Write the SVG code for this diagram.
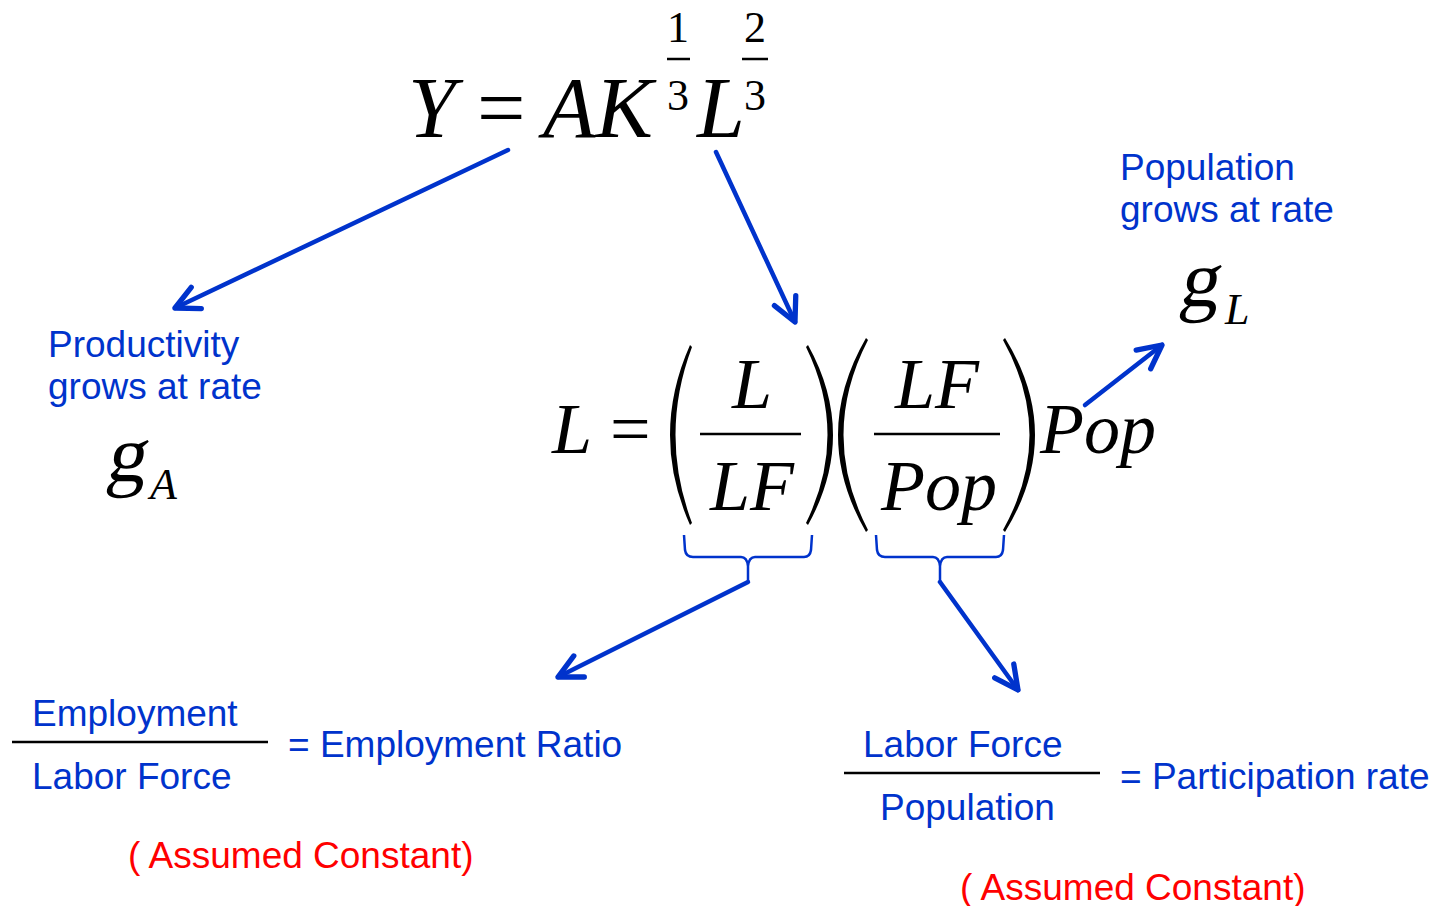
<svg xmlns="http://www.w3.org/2000/svg" width="1449" height="906" viewBox="0 0 1449 906">
<style>
.m{font-family:"Liberation Serif","Times New Roman",serif;font-style:italic;fill:#000}
.mu{font-family:"Liberation Serif","Times New Roman",serif;fill:#000}
.t{font-family:"Liberation Sans",Arial,sans-serif;font-size:37px;fill:#0033cc}
.r{font-family:"Liberation Sans",Arial,sans-serif;font-size:37px;fill:#ff0000}
.c{stroke:#0033cc;stroke-width:4.5;fill:none;stroke-linecap:round}
.b{stroke:#0033cc;stroke-width:2.5;fill:none}
.bar{stroke:#000;stroke-width:2.5}
</style>
<defs>
<marker id="ah" markerUnits="userSpaceOnUse" markerWidth="40" markerHeight="40" viewBox="-4 -4 34 34" refX="22" refY="12" orient="auto">
<path d="M2,2 L22,12 L2,22" fill="none" stroke="#0033cc" stroke-width="4.5" stroke-linecap="round" stroke-linejoin="round"/>
</marker>
</defs>
<rect width="1449" height="906" fill="#fff"/>
<g id="eq-production">
<text class="m" x="408" y="137" font-size="86">Y</text>
<text class="mu" x="477" y="137" font-size="86">=</text>
<text class="m" x="543" y="137" font-size="86">AK</text>
<text class="mu" x="678" y="42" font-size="44" text-anchor="middle">1</text>
<line class="bar" x1="667" y1="59" x2="690" y2="59"/>
<text class="mu" x="678" y="110" font-size="44" text-anchor="middle">3</text>
<text class="m" x="697" y="137" font-size="86">L</text>
<text class="mu" x="755" y="42" font-size="44" text-anchor="middle">2</text>
<line class="bar" x1="742" y1="59" x2="768" y2="59"/>
<text class="mu" x="755" y="110" font-size="44" text-anchor="middle">3</text>
</g>
<g id="eq-labor">
<text class="m" x="552" y="453" font-size="72">L</text>
<text class="mu" x="610" y="453" font-size="72">=</text>
<path d="M690,345 Q650,435 690,525 L692,523 Q659,435 692,347 Z" fill="#000"/>
<text class="m" x="752" y="408" font-size="72" text-anchor="middle">L</text>
<line class="bar" x1="700" y1="434" x2="801" y2="434"/>
<text class="m" x="752" y="510" font-size="72" text-anchor="middle">LF</text>
<path d="M808,345 Q858,435 808,525 L806,523 Q849,435 806,347 Z" fill="#000"/>
<path d="M866,338 Q810,435 866,532 L868,530 Q819,435 868,340 Z" fill="#000"/>
<text class="m" x="937" y="408" font-size="72" text-anchor="middle">LF</text>
<line class="bar" x1="874" y1="434" x2="1000" y2="434"/>
<text class="m" x="939" y="510" font-size="72" text-anchor="middle">Pop</text>
<path d="M1005,338 Q1065,435 1005,532 L1003,530 Q1056,435 1003,340 Z" fill="#000"/>
<text class="m" x="1040" y="453" font-size="72">Pop</text>
</g>
<g id="brace-1"><path class="b" d="M684,535 L685,550 Q686,557 693,557 L741,557 Q747,557 748,566 L748,582 L748,566 Q749,557 755,557 L804,557 Q810,557 811,550 L812,535"/></g>
<g id="brace-2"><path class="b" d="M876,535 L877,550 Q878,557 885,557 L933,557 Q939,557 940,566 L940,582 L940,566 Q941,557 947,557 L996,557 Q1002,557 1003,550 L1004,535"/></g>
<g id="productivity">
<text class="t" x="48" y="357">Productivity</text>
<text class="t" x="48" y="399">grows at rate</text>
<text class="mu" font-size="80" transform="translate(105,481) skewX(-10)">g</text>
<text class="m" x="150" y="499" font-size="44">A</text>
</g>
<g id="population">
<text class="t" x="1120" y="180">Population</text>
<text class="t" x="1120" y="222">grows at rate</text>
<text class="mu" font-size="80" transform="translate(1178,306) skewX(-10)">g</text>
<text class="m" x="1225" y="324" font-size="44">L</text>
</g>
<g id="employment-ratio">
<text class="t" x="32" y="726">Employment</text>
<line x1="12" y1="742" x2="268" y2="742" stroke="#000" stroke-width="2.5"/>
<text class="t" x="32" y="789">Labor Force</text>
<text class="t" x="288" y="757">= Employment Ratio</text>
<text class="r" x="128" y="868">( Assumed Constant)</text>
</g>
<g id="participation-rate">
<text class="t" x="863" y="757">Labor Force</text>
<line x1="844" y1="773" x2="1100" y2="773" stroke="#000" stroke-width="2.5"/>
<text class="t" x="880" y="820">Population</text>
<text class="t" x="1120" y="789">= Participation rate</text>
<text class="r" x="960" y="900">( Assumed Constant)</text>
</g>
<g id="connectors">
<line class="c" x1="508" y1="150" x2="175" y2="308" marker-end="url(#ah)"/>
<line class="c" x1="716" y1="152" x2="795" y2="322" marker-end="url(#ah)"/>
<line class="c" x1="1085" y1="405" x2="1162" y2="345" marker-end="url(#ah)"/>
<line class="c" x1="748" y1="582" x2="558" y2="677" marker-end="url(#ah)"/>
<line class="c" x1="940" y1="582" x2="1018" y2="690" marker-end="url(#ah)"/>
</g>
</svg>
